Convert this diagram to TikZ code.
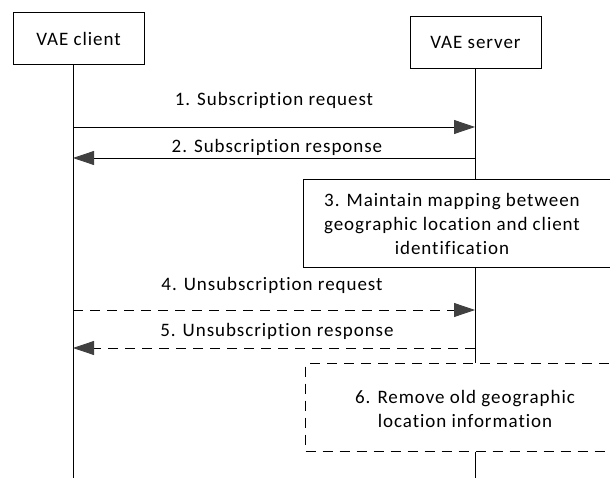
\documentclass[tikz,border=0pt]{standalone}
\usepackage{fontspec}
\setmainfont{Carlito}[Ligatures=NoCommon, LetterSpace=5]
\usetikzlibrary{arrows.meta}
\definecolor{tipgray}{HTML}{404040}
\begin{document}
\begin{tikzpicture}[x=1pt,y=-1pt,
  lbl/.style={font=\fontsize{19}{24}\selectfont, inner sep=0pt, align=center},
  entity/.style={draw, line width=1pt, minimum width=131pt, minimum height=52pt, inner sep=0pt, font=\fontsize{19}{24}\selectfont},
  lifeline/.style={line width=1pt},
  msg/.style={line width=0.8pt, -{Triangle[length=21pt,width=14pt,color=tipgray]}},
  dmsg/.style={msg, dash pattern=on 10pt off 7pt},
  actbox/.style={draw, line width=1pt, anchor=north west, inner sep=0pt},
]
\useasboundingbox (0,0) rectangle (610,478);
\clip (0,0) rectangle (610,478);

% entities
\node[entity] (cli) at (78.5,39) {VAE client};
\node[entity] (srv) at (475.5,42.5) {VAE server};

% action boxes
\node[actbox, minimum width=320pt, minimum height=88pt] (act3) at (303,179) {};
\node[lbl] (act3t) at (452,224) {3. Maintain mapping between\\geographic location and client\\identification};
\node[actbox, dash pattern=on 10pt off 7pt, minimum width=320pt, minimum height=88pt] (act6) at (305,363) {};
\node[lbl] (act6t) at (465,409) {6. Remove old geographic\\location information};

% lifeline coordinates
\coordinate (cliEnd) at (73,478);
\coordinate (srvEnd) at (475,478);
\coordinate (c1) at (73,127);  \coordinate (s1) at (475,127);
\coordinate (c2) at (73,158);  \coordinate (s2) at (475,158);
\coordinate (c4) at (73,310);  \coordinate (s4) at (475,310);
\coordinate (c5) at (73,348);  \coordinate (s5) at (475,348);

% lifelines
\draw[lifeline] (cli.south -| cliEnd) -- (cliEnd);
\draw[lifeline] (srv.south -| srvEnd) -- (act3.north -| srvEnd);
\draw[lifeline] (act3.south -| srvEnd) -- (act6.north -| srvEnd);
\draw[lifeline] (act6.south -| srvEnd) -- (srvEnd);

% messages
\draw[msg] (c1) -- (s1);
\node[lbl] (m1) at (274,100) {1. Subscription request};
\draw[msg] (s2) -- (c2);
\node[lbl] (m2) at (277,147) {2. Subscription response};
\draw[dmsg] (c4) -- (s4);
\node[lbl] (m4) at (272,285) {4. Unsubscription request};
\draw[dmsg] (s5) -- (c5);
\node[lbl] (m5) at (277,331) {5. Unsubscription response};
\end{tikzpicture}
\end{document}
